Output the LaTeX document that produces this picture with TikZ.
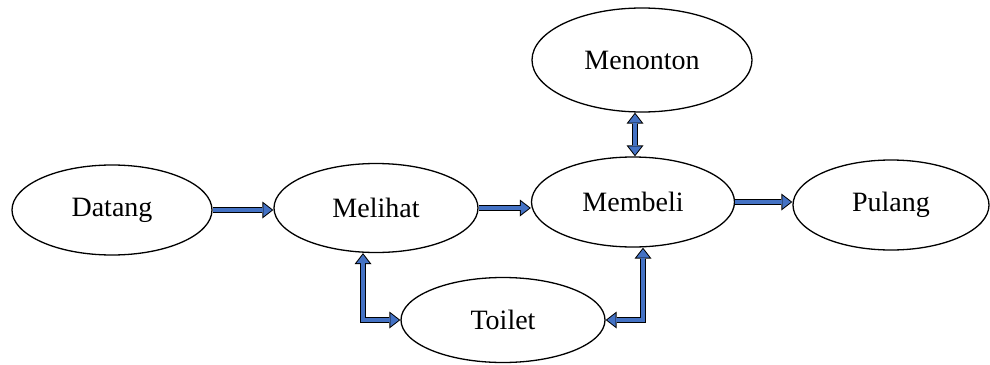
\documentclass[tikz,border=0pt]{standalone}
\usepackage{fontspec}
\setmainfont{Liberation Serif}
\usetikzlibrary{arrows.meta,shapes.geometric}
\definecolor{arrowblue}{RGB}{68,114,196}

\begin{document}
\begin{tikzpicture}
		[x=1pt,y=-1pt,
		 state/.style={ellipse,draw,line width=1.3pt,inner sep=0pt,font=\fontsize{28}{30}\selectfont},
		 outertip/.tip={Triangle[length=11pt,width=17pt,line width=0pt]},
		 innertip/.tip={Triangle[length=8.4pt,width=12.9pt,line width=0pt]},
		 blockarrow/.style={draw=black,line width=6.5pt,-outertip,
		   postaction={draw=arrowblue,line width=4.5pt,shorten >=1.6pt,-innertip}},
		 twoway/.style={draw=black,line width=6.5pt,outertip-outertip,
		   postaction={draw=arrowblue,line width=4.5pt,shorten >=1.6pt,shorten <=1.6pt,innertip-innertip}}]
		\useasboundingbox (0,0) rectangle (990,364);

		\node[state,minimum width=200pt,minimum height=90pt] (datang) at (112,210) {Datang};
		\node[state,minimum width=204pt,minimum height=89pt] (melihat) at (376,208) {Melihat};
		\node[state,minimum width=203pt,minimum height=90pt] (membeli) at (633,202) {Membeli};
		\node[state,minimum width=196pt,minimum height=90pt] (pulang) at (891,205) {Pulang};
		\node[state,minimum width=220pt,minimum height=104pt] (menonton) at (642,60) {Menonton};
		\node[state,minimum width=204pt,minimum height=85pt] (toilet) at (503,320) {Toilet};

		\draw[blockarrow] (datang.east) -- (datang.east -| melihat.west);
		\draw[blockarrow] (melihat.east) -- (melihat.east -| membeli.west);
		\draw[blockarrow] (membeli.east) -- (membeli.east -| pulang.west);
		\draw[twoway] ([xshift=2pt]membeli.north) -- ([xshift=2pt]membeli.north |- menonton.south);
		\draw[twoway] ([xshift=-13pt]melihat.south) |- (toilet.west);
		\draw[twoway] ([xshift=10pt]membeli.south) |- (toilet.east);

	\end{tikzpicture}
\end{document}
